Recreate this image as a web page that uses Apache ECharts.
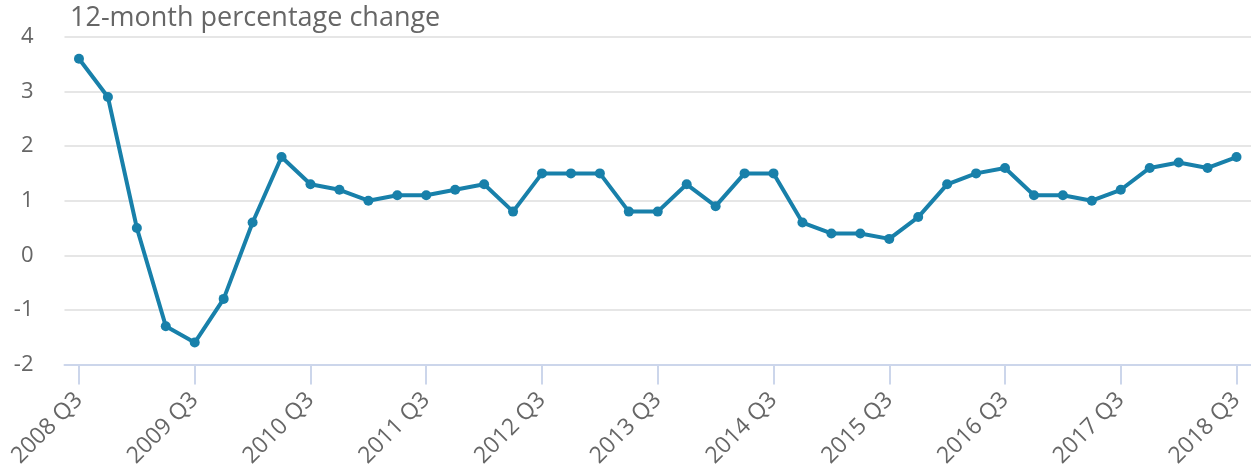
<!DOCTYPE html>
<html>
<head>
<meta charset="utf-8">
<script src="https://cdn.jsdelivr.net/npm/echarts@6/dist/echarts.min.js"></script>
<style>
html,body{margin:0;padding:0;background:#fff;}
#chart{width:1251px;height:470px;}
</style>
</head>
<body>
<div id="chart"></div>
<script>
const titleText = "12-month percentage change";
const categories = [
  "2008 Q3","2008 Q4","2009 Q1","2009 Q2","2009 Q3","2009 Q4","2010 Q1","2010 Q2",
  "2010 Q3","2010 Q4","2011 Q1","2011 Q2","2011 Q3","2011 Q4","2012 Q1","2012 Q2",
  "2012 Q3","2012 Q4","2013 Q1","2013 Q2","2013 Q3","2013 Q4","2014 Q1","2014 Q2",
  "2014 Q3","2014 Q4","2015 Q1","2015 Q2","2015 Q3","2015 Q4","2016 Q1","2016 Q2",
  "2016 Q3","2016 Q4","2017 Q1","2017 Q2","2017 Q3","2017 Q4","2018 Q1","2018 Q2",
  "2018 Q3"
];
const values = [
  3.6, 2.9, 0.5, -1.3, -1.6, -0.8, 0.6, 1.8,
  1.3, 1.2, 1.0, 1.1, 1.1, 1.2, 1.3, 0.8,
  1.5, 1.5, 1.5, 0.8, 0.8, 1.3, 0.9, 1.5,
  1.5, 0.6, 0.4, 0.4, 0.3, 0.7, 1.3, 1.5,
  1.6, 1.1, 1.1, 1.0, 1.2, 1.6, 1.7, 1.6,
  1.8
];
const yTicks = [-2, -1, 0, 1, 2, 3, 4];

const FONT = "'Open Sans', sans-serif";
const chart = echarts.init(document.getElementById('chart'), null, {renderer: 'canvas'});
chart.setOption({
  animation: false,
  backgroundColor: '#ffffff',
  title: {
    text: titleText,
    left: 65,
    top: 0,
    textStyle: {fontFamily: FONT, fontSize: 27, fontWeight: 'normal', color: '#666666'}
  },
  grid: {left: 64.5, width: 1190, top: 37, height: 330, containLabel: false},
  xAxis: {
    type: 'category',
    data: categories,
    boundaryGap: true,
    axisLine: {show: true, onZero: false, lineStyle: {color: '#ccd6eb', width: 2}},
    axisTick: {show: true, alignWithLabel: true, interval: 3, length: 20, lineStyle: {color: '#ccd6eb', width: 2}},
    axisLabel: {interval: 3, rotate: 45, margin: 32, fontFamily: FONT, fontSize: 23, color: '#666666'},
    splitLine: {show: false}
  },
  yAxis: {
    type: 'value',
    min: yTicks[0],
    max: yTicks[yTicks.length - 1],
    interval: 1,
    axisLine: {show: false},
    axisTick: {show: false},
    axisLabel: {margin: 31, fontFamily: FONT, fontSize: 22, color: '#666666', padding: [5, 0, 0, 0]},
    splitLine: {show: true, lineStyle: {color: '#e6e6e6', width: 2}}
  },
  series: [{
    type: 'line',
    data: values,
    symbol: 'circle',
    symbolSize: 10,
    lineStyle: {color: '#1880aa', width: 4},
    itemStyle: {color: '#1880aa'},
    z: 3
  }]
});
</script>
</body>
</html>
